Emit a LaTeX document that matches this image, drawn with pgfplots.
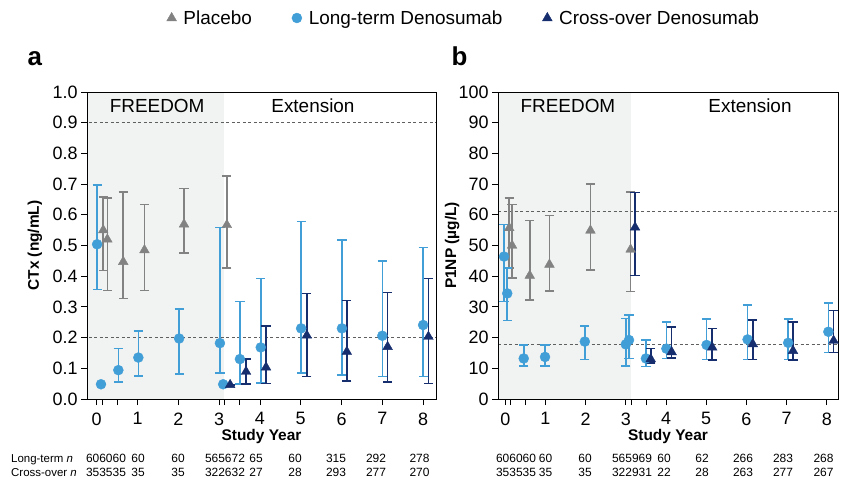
\documentclass[border=0pt]{standalone}
\usepackage{fontspec}
\setmainfont{Liberation Sans}
\usepackage{pgfplots}
\pgfplotsset{compat=1.18}
\usepackage{pgfplotstable}

\definecolor{ltblue}{RGB}{66,158,214}
\definecolor{navy}{RGB}{22,46,110}
\definecolor{pgray}{RGB}{130,130,130}
\definecolor{shadegray}{RGB}{241,242,242}
\definecolor{dashgray}{RGB}{95,95,95}

% x = study year (with the small offsets of the original), y = mean, hi/lo = ends of the bar
% CTx, ng/mL
\pgfplotstableread{
x     y     hi    lo
0.16  0.550 0.657 0.418
0.26  0.520 0.654 0.353
0.65  0.447 0.675 0.327
1.17  0.485 0.634 0.353
2.14  0.569 0.686 0.476
3.19  0.567 0.727 0.426
}\ctxPla
\pgfplotstableread{
x     y     hi    lo
0.01  0.504 0.697 0.357
0.105 0.048 0.048 0.048
0.53  0.094 0.164 0.055
1.02  0.135 0.222 0.074
2.02  0.197 0.293 0.081
3.02  0.182 0.558 0.084
3.10  0.048 0.048 0.048
3.51  0.130 0.317 0.049
4.02  0.168 0.393 0.053
5.01  0.230 0.578 0.084
6.01  0.230 0.518 0.078
7.00  0.206 0.450 0.073
8.00  0.241 0.493 0.073
}\ctxLong
\pgfplotstableread{
x     y     hi    lo
3.27  0.046 0.046 0.046
3.66  0.089 0.130 0.049
4.15  0.103 0.238 0.051
5.15  0.207 0.343 0.073
6.13  0.154 0.321 0.059
7.13  0.170 0.347 0.056
8.13  0.203 0.393 0.051
}\ctxCross
% P1NP, ug/L
\pgfplotstableread{
x     y     hi    lo
0.10  55.7  65.5  42.7
0.17  50.0  63.3  39.5
0.61  40.2  58.1  32.2
1.10  43.8  59.8  35.1
2.12  54.9  70.0  42.1
3.12  48.7  67.4  35.0
}\pnpPla
\pgfplotstableread{
x     y     hi    lo
-0.03 46.4  56.8  31.7
0.05  34.4  42.6  25.6
0.46  13.2  17.6  10.8
0.99  13.7  17.6  10.8
1.98  18.7  23.8  12.9
3.00  17.8  26.2  10.8
3.08  19.2  27.4  13.2
3.50  13.2  19.2  10.6
4.01  16.4  25.1  13.2
5.01  17.6  26.0  12.9
6.03  19.4  30.6  12.9
7.04  18.3  26.0  12.9
8.04  21.9  31.2  15.1
}\pnpLong
\pgfplotstableread{
x     y     hi    lo
3.23  55.9  67.2  40.2
3.62  13.0  16.4  11.7
4.14  15.3  23.5  13.4
5.15  16.8  23.0  12.7
6.16  17.9  25.7  12.9
7.16  15.7  25.0  12.7
8.17  19.0  28.8  15.1
}\pnpCross

\tikzset{
  refline/.style={color=dashgray, line width=1bp, dash pattern=on 3bp off 2.5bp},
  phase/.style={font=\fontsize{19}{19}\selectfont},
}

\pgfplotsset{
  panel/.style={
    scale only axis, height=307bp, ymin=0,
    axis on top, tick align=outside,
    xtick pos=bottom, ytick pos=left,
    xtick={0,1,2,3,4,5,6,7,8},
    minor xtick={0.13,0.5,3.14,3.5},
    major tick length=6bp, minor tick length=6bp,
    tick style={black, line width=0.8bp},
    axis line style={black, line width=0.8bp},
    tick label style={font=\fontsize{18}{18}\selectfont},
    xticklabel style={yshift=-4bp},
    /pgf/number format/assume math mode=true,
    xlabel={Study Year},
    xlabel style={font=\fontsize{15.5}{16}\selectfont\bfseries,
      at={(axis description cs:0.5,-0.122)}, anchor=center},
    ylabel style={font=\fontsize{15.5}{16}\selectfont\bfseries, anchor=center},
  },
  errs/.style={
    only marks,
    error bars/y dir=both, error bars/y explicit,
    error bars/error bar style={line width=1.6bp, color=#1},
    error bars/error mark options={rotate=90, line width=1.6bp, mark size=4.6bp, color=#1},
  },
  pla/.style={errs=pgray, color=pgray, mark=triangle*, mark size=5.6bp,
    mark options={solid, fill=pgray, draw=pgray}},
  long/.style={errs=ltblue, color=ltblue, mark=*, mark size=5bp,
    mark options={solid, fill=ltblue, draw=ltblue}},
  cross/.style={errs=navy, color=navy, mark=triangle*, mark size=5.6bp,
    mark options={solid, fill=navy, draw=navy}},
  legend image code/.code={\draw[mark repeat=1,#1] plot coordinates {(0bp,0bp)};},
  table/errtab/.style={x=x, y=y,
    y error plus expr=\thisrow{hi}-\thisrow{y},
    y error minus expr=\thisrow{y}-\thisrow{lo}},
}

\begin{document}
\begin{tikzpicture}
\useasboundingbox (0,0) rectangle (841bp,478bp);

% ---- a: CTx ----
\begin{axis}[panel, at={(87bp,79bp)}, anchor=south west, width=349bp,
  xmin=-0.238, xmax=8.316, ymax=1,
  ytick={0,0.1,0.2,0.3,0.4,0.5,0.6,0.7,0.8,0.9,1},
  yticklabel style={/pgf/number format/.cd, fixed, fixed zerofill, precision=1},
  ylabel={CTx (ng/mL)},
  ylabel style={at={(axis description cs:-0.149,0.5)}},
  legend style={at={(axis description cs:1.08,1.241)}, anchor=center,
    draw=none, fill=none, font=\fontsize{19}{19}\selectfont,
    legend columns=3,
    /tikz/every odd column/.append style={column sep=5bp},
    /tikz/every even column/.append style={column sep=38bp}},
  legend entries={Placebo, Long-term Denosumab, Cross-over Denosumab}]
\fill[shadegray] (axis cs:-1,0) rectangle (axis cs:3.12,1);
\draw[refline] (axis cs:-1,0.9) -- (axis cs:9,0.9);
\draw[refline] (axis cs:-1,0.2) -- (axis cs:9,0.2);
\node[phase] at (axis cs:1.48,0.954) {FREEDOM};
\node[phase] at (axis cs:5.30,0.954) {Extension};
\addplot[pla] table[errtab] {\ctxPla};
\addplot[long] table[errtab] {\ctxLong};
\addplot[cross] table[errtab] {\ctxCross};
\end{axis}

% ---- b: P1NP ----
\begin{axis}[panel, at={(498bp,79bp)}, anchor=south west, width=340bp,
  xmin=-0.18, xmax=8.28, ymax=100,
  ytick={0,10,20,30,40,50,60,70,80,90,100},
  ylabel={P1NP (\textmu g/L)},
  ylabel style={at={(axis description cs:-0.135,0.5)}}]
\fill[shadegray] (axis cs:-1,0) rectangle (axis cs:3.12,100);
\draw[refline] (axis cs:-1,61.2) -- (axis cs:9,61.2);
\draw[refline] (axis cs:-1,17.8) -- (axis cs:9,17.8);
\node[phase] at (axis cs:1.56,95.4) {FREEDOM};
\node[phase] at (axis cs:6.09,95.4) {Extension};
\addplot[pla] table[errtab] {\pnpPla};
\addplot[long] table[errtab] {\pnpLong};
\addplot[cross] table[errtab] {\pnpCross};
\end{axis}

% panel letters
\node[anchor=base west, font=\fontsize{26}{26}\selectfont\bfseries] at (24bp,412bp) {a};
\node[anchor=base west, font=\fontsize{26}{26}\selectfont\bfseries] at (448bp,412bp) {b};

% numbers of subjects
\begin{scope}[every node/.style={anchor=base, inner sep=0pt, font=\fontsize{12}{12}\selectfont}]
\node[anchor=base west, font=\fontsize{11.5}{11.5}\selectfont] at (11bp,15.3bp) {Long-term \textit{n}};
\node[anchor=base west, font=\fontsize{11.5}{11.5}\selectfont] at (11bp,1.3bp) {Cross-over \textit{n}};
\foreach \xx/\lab in {106/606060, 138/60, 178/60, 225/565672, 256/65, 295/60, 336/315, 376/292, 419.5/278}
  \node at (\xx bp,15.3bp) {\lab};
\foreach \xx/\lab in {106/353535, 138/35, 178/35, 225/322632, 256/27, 295/28, 336/293, 376/277, 419.5/270}
  \node at (\xx bp,1.3bp) {\lab};
\foreach \xx/\lab in {516/606060, 545.5/60, 585/60, 632/565969, 664/60, 702/62, 743/266, 783/283, 823.5/268}
  \node at (\xx bp,15.3bp) {\lab};
\foreach \xx/\lab in {516/353535, 545.5/35, 585/35, 632/322931, 664/22, 702/28, 743/263, 783/277, 823.5/267}
  \node at (\xx bp,1.3bp) {\lab};
\end{scope}
\end{tikzpicture}
\end{document}
